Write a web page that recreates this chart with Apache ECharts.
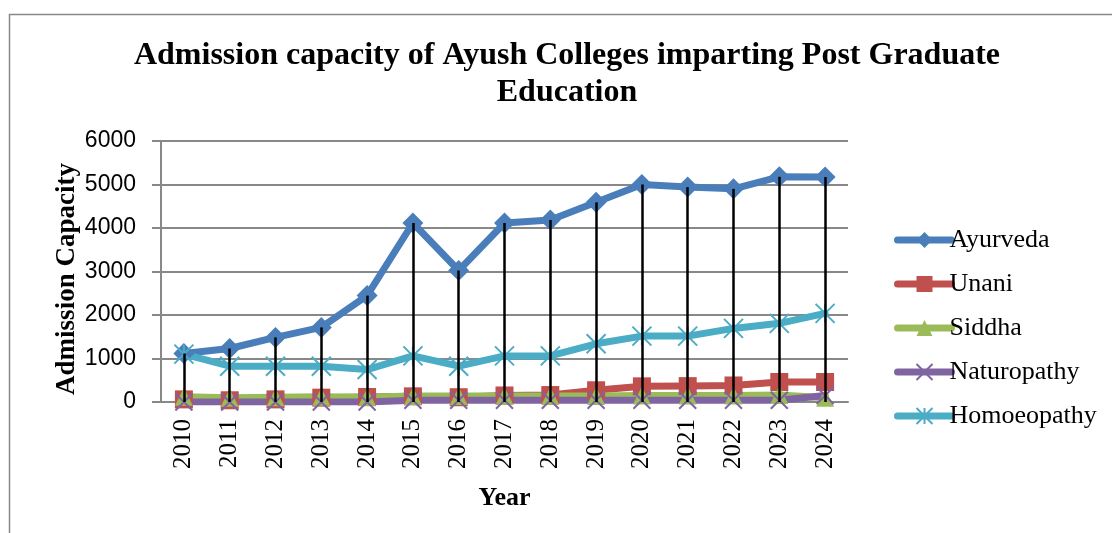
<!DOCTYPE html>
<html>
<head>
<meta charset="utf-8">
<script src="https://cdn.jsdelivr.net/npm/echarts@6/dist/echarts.min.js"></script>
<style>html,body{margin:0;padding:0;background:#fff;}#c{width:1112px;height:533px;}</style>
</head>
<body>
<div id="c"></div>
<script>
var years = ['2010','2011','2012','2013','2014','2015','2016','2017','2018','2019','2020','2021','2022','2023','2024'];
var ayurveda = [1115, 1230, 1485, 1715, 2446, 4115, 3023, 4115, 4185, 4590, 5000, 4940, 4900, 5177, 5170];
var unani = [60, 40, 60, 100, 115, 130, 110, 150, 160, 270, 360, 365, 380, 460, 460];
var siddha = [120, 100, 110, 120, 110, 140, 140, 140, 140, 140, 150, 150, 150, 160, 100];
var naturopathy = [0, 0, 0, 0, 0, 40, 40, 40, 40, 40, 40, 40, 40, 40, 150];
var homoeopathy = [1100, 823, 823, 823, 746, 1060, 823, 1060, 1060, 1338, 1515, 1515, 1692, 1808, 2038];
var yTicks = [0, 1000, 2000, 3000, 4000, 5000, 6000];

var serif = '"Liberation Serif", "Times New Roman", serif';
var sans = '"Liberation Sans", Arial, sans-serif';

var dropData = years.map(function (y, i) {
  return [{ coord: [y, ayurveda[i]] }, { coord: [y, 0] }];
});

function lineSeries(name, data, color, symbol, size, extra) {
  var s = {
    name: name, type: 'line', data: data,
    symbol: symbol, symbolSize: size,
    lineStyle: { color: color, width: 7, cap: 'round', join: 'round' },
    itemStyle: { color: color },
    z: 2
  };
  if (extra) for (var k in extra) s[k] = extra[k];
  return s;
}

var chart = echarts.init(document.getElementById('c'), null, { renderer: 'canvas' });
chart.setOption({
  animation: false,
  backgroundColor: '#fff',
  graphic: [
    { type: 'rect', shape: { x: 9.5, y: 14.5, width: 1300, height: 700 },
      style: { fill: 'none', stroke: '#888', lineWidth: 1.5 }, silent: true, z: -1 },
    { type: 'text', x: 567, y: 56, style: { text: 'Admission capacity of Ayush Colleges imparting Post Graduate',
      font: 'bold 32px ' + serif, fill: '#000', textAlign: 'center', textVerticalAlign: 'middle' } },
    { type: 'text', x: 567, y: 93, style: { text: 'Education',
      font: 'bold 32px ' + serif, fill: '#000', textAlign: 'center', textVerticalAlign: 'middle' } },
    { type: 'text', x: 67, y: 279, rotation: Math.PI / 2, style: { text: 'Admission Capacity',
      font: 'bold 27px ' + serif, fill: '#000', textAlign: 'center', textVerticalAlign: 'middle' } }
  ],
  grid: { left: 161, right: 264, top: 141, bottom: 131, containLabel: false },
  legend: {
    orient: 'vertical', left: 889, top: 222,
    itemWidth: 54, itemHeight: 20, itemGap: 18,
    lineStyle: { width: 7, cap: 'round' },
    textStyle: { fontFamily: serif, fontSize: 26, color: '#000', lineHeight: 26, padding: [0, 0, 0, -7] },
    data: ['Ayurveda', 'Unani', 'Siddha', 'Naturopathy', 'Homoeopathy']
  },
  xAxis: {
    type: 'category', data: years, boundaryGap: true,
    name: 'Year', nameLocation: 'middle', nameGap: 83,
    nameTextStyle: { fontFamily: serif, fontSize: 26, fontWeight: 'bold', color: '#000' },
    axisLine: { lineStyle: { color: '#888', width: 2 } },
    axisTick: { show: false },
    axisLabel: { rotate: 90, fontFamily: serif, fontSize: 25, color: '#000', margin: 17 },
    splitLine: { show: false }
  },
  yAxis: {
    type: 'value', min: yTicks[0], max: yTicks[yTicks.length - 1], interval: 1000,
    axisLine: { show: true, lineStyle: { color: '#888', width: 2 } },
    axisTick: { show: true, inside: false, length: 9, lineStyle: { color: '#888', width: 2 } },
    axisLabel: { fontFamily: sans, fontSize: 23, color: '#000', margin: 25,
      formatter: function (v) { return String(v); } },
    splitLine: { lineStyle: { color: '#888', width: 2 } }
  },
  series: [
    lineSeries('Ayurveda', ayurveda, '#4a7ebb', 'diamond', [21, 21], {
      markLine: {
        silent: true, symbol: ['none', 'none'], label: { show: false },
        lineStyle: { color: '#000', width: 2.5, type: 'solid' },
        emphasis: { disabled: true },
        data: dropData
      }
    }),
    lineSeries('Unani', unani, '#c0504d', 'rect', 18),
    lineSeries('Siddha', siddha, '#9bbb59', 'triangle', 18),
    lineSeries('Naturopathy', naturopathy, '#8064a2', 'path://M0,0L10,10M10,0L0,10', 17,
      { itemStyle: { color: '#8064a2', borderColor: '#8064a2', borderWidth: 2 } }),
    lineSeries('Homoeopathy', homoeopathy, '#4bacc6', 'path://M0,0L10,10M10,0L0,10M5,0L5,10', 19,
      { itemStyle: { color: '#4bacc6', borderColor: '#4bacc6', borderWidth: 2 } })
  ]
});
</script>
</body>
</html>
